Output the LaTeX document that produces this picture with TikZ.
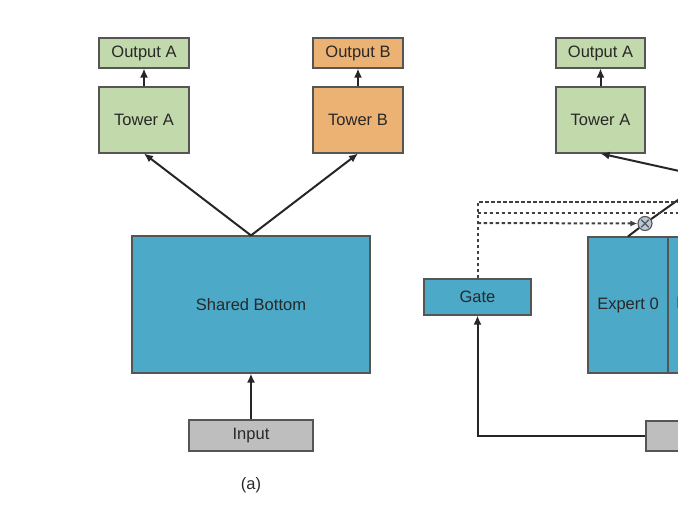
\documentclass[tikz,border=0pt]{standalone}
\usepackage{fontspec}
\setmainfont{Liberation Sans}
\usetikzlibrary{arrows.meta,calc}
\definecolor{grn}{RGB}{193,217,171}
\definecolor{org}{RGB}{236,178,116}
\definecolor{blu}{RGB}{76,170,200}
\definecolor{gry}{RGB}{190,190,190}
\definecolor{edge}{RGB}{85,85,85}
\definecolor{txt}{RGB}{40,40,40}
\definecolor{mulc}{RGB}{185,200,215}
\tikzset{
  box/.style={draw=edge, line width=1.1pt, text=txt, inner sep=0pt, align=center,
    font=\fontsize{16.5}{19}\selectfont},
  conn/.style={draw=black!85, line width=2pt, -{Latex[length=9pt,width=8pt]}},
  plain/.style={draw=black!85, line width=2pt},
  gdash/.style={draw=black!75, line width=2pt, dash pattern=on 3.5pt off 2.5pt},
}
\begin{document}
\begin{tikzpicture}[x=1pt,y=-1pt]
\useasboundingbox (0,0) rectangle (678,516);
\clip (0,0) rectangle (678,516);
% ---------- (a) shared bottom ----------
\node[box, fill=grn, minimum width=90pt, minimum height=30pt] (outA) at (144,53) {Output A};
\node[box, fill=grn, minimum width=90pt, minimum height=66pt] (towA) at (144,120) {Tower A};
\node[box, fill=org, minimum width=90pt, minimum height=30pt] (outB) at (358,53) {Output B};
\node[box, fill=org, minimum width=90pt, minimum height=66pt] (towB) at (358,120) {Tower B};
\node[box, fill=blu, minimum width=238pt, minimum height=137pt] (shared) at (251,304.5) {Shared Bottom};
\node[box, fill=gry, minimum width=124pt, minimum height=31pt] (input) at (251,435.5) {Input};
\node[text=txt, font=\fontsize{16.5}{19}\selectfont] (capa) at (251,485) {(a)};
\draw[conn] (towA.north) -- (outA.south);
\draw[conn] (towB.north) -- (outB.south);
\draw[conn] (shared.north) -- (towA.south);
\draw[conn] (shared.north) -- (towB.south);
\draw[conn] (input.north) -- (shared.south);
% ---------- (b) MMoE (cropped) ----------
\node[box, fill=grn, minimum width=89pt, minimum height=30pt] (outA2) at (600.5,53) {Output A};
\node[box, fill=grn, minimum width=89pt, minimum height=66pt] (towA2) at (600.5,120) {Tower A};
\node[box, fill=blu, minimum width=107pt, minimum height=36pt] (gate) at (477.5,297) {Gate};
\node[box, fill=blu, minimum width=80pt, minimum height=136pt] (exp0) at (628,305) {Expert 0};
\node[box, fill=blu, minimum width=78pt, minimum height=136pt] (exp1) at (707,305) {Expert 1};
\node[box, fill=gry, minimum width=124pt, minimum height=30pt] (input2) at (708,436) {};
\draw[conn] (towA2.north) -- (outA2.south);
\coordinate (sumA) at (720,180);
\draw[conn] (sumA) -- (towA2.south);
\draw[conn] (input2.west) -| (gate.south);
% gate outputs (dashed)
\coordinate (gc1) at (477.5,202);
\coordinate (gc2) at (477.5,213);
\coordinate (gc3) at (477.5,223);
\coordinate (ge1) at (720,202);
\coordinate (ge2) at (720,213);
\node[circle, draw=edge, fill=mulc, line width=1.1pt, minimum size=14pt, inner sep=0pt] (mul) at (645,223.5) {};
\draw[plain] (exp0.north) -- (mul);
\draw[plain] (mul) -- (720,170);
\draw[edge, line width=1.1pt] ($(mul.center)+(-3.8,-3.8)$) -- ($(mul.center)+(3.8,3.8)$);
\draw[edge, line width=1.1pt] ($(mul.center)+(-3.8,3.8)$) -- ($(mul.center)+(3.8,-3.8)$);
\draw[gdash] (gate.north) -- (gc1) -- (ge1);
\draw[gdash] (gc2) -- (ge2);
\draw[gdash, -{Latex[length=7pt,width=6pt]}] (gc3) -- (mul.west);
\end{tikzpicture}
\end{document}
